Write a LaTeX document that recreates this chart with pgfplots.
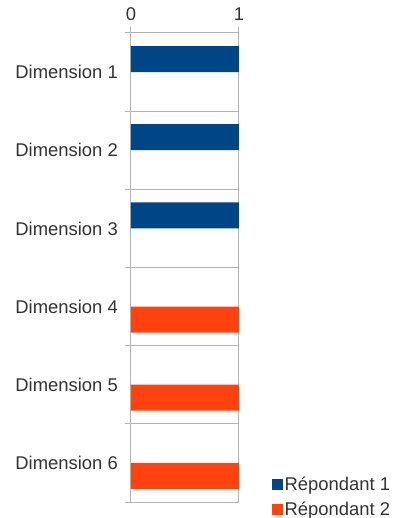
\documentclass[border=0pt]{standalone}
\usepackage{fontspec}
\setmainfont{Liberation Sans}
\usepackage{pgfplots}
\pgfplotsset{compat=1.18}
\definecolor{serA}{HTML}{004586}
\definecolor{serB}{HTML}{FF420E}
\definecolor{gridgray}{HTML}{B3B3B3}
\definecolor{txt}{HTML}{333333}
\begin{document}
\fontsize{18.5}{21}\selectfont
\begin{tikzpicture}
\path[use as bounding box] (-131bp,-16bp) rectangle (262bp,502bp);
\begin{axis}[
  at={(0,0)}, anchor=south west,
  scale only axis, width=108bp, height=469bp,
  xmin=0, xmax=1, ymin=0.5, ymax=6.5,
  axis line style={draw=none},
  clip=false,
  /pgf/number format/assume math mode=true,
  xbar, bar width=26bp,
  xtick={0,1}, xtick pos=right, xticklabel pos=right,
  tick align=outside,
  xmajorgrids, major grid style={draw=gridgray, line width=1bp},
  every tick/.style={draw=gridgray, line width=1bp},
  major tick length=5.5bp,
  xticklabel style={inner sep=0pt, yshift=7bp, text=txt},
  ytick={0.5,1.5,2.5,3.5,4.5,5.5,6.5}, yticklabels={},
  ytick pos=left, ymajorgrids,
  extra y ticks={1,2,3,4,5,6},
  extra y tick labels={Dimension 6,Dimension 5,Dimension 4,Dimension 3,Dimension 2,Dimension 1},
  extra y tick style={major tick length=0pt, grid=none,
     yticklabel style={inner sep=0pt, xshift=-13bp, text=txt}},
  legend style={draw=none, fill=none, at={(1,0)}, anchor=south west,
     xshift=30bp, yshift=-20bp, text=txt, row sep=6bp,
     nodes={inner sep=1.5bp}},
  legend cell align=left,
  legend image code/.code={\fill[#1] (0bp,-5bp) rectangle (11bp,6bp);},
]
% Répondant 1: value 1 for Dimensions 1-3 (0 for Dimensions 4-6)
\addplot[fill=serA, draw=none, bar shift=13bp] coordinates {(1,6) (1,5) (1,4)};
\addlegendentry{Répondant 1}
% Répondant 2: value 1 for Dimensions 4-6 (0 for Dimensions 1-3)
\addplot[fill=serB, draw=none, bar shift=-13bp] coordinates {(1,3) (1,2) (1,1)};
\addlegendentry{Répondant 2}
\end{axis}
\end{tikzpicture}
\end{document}
